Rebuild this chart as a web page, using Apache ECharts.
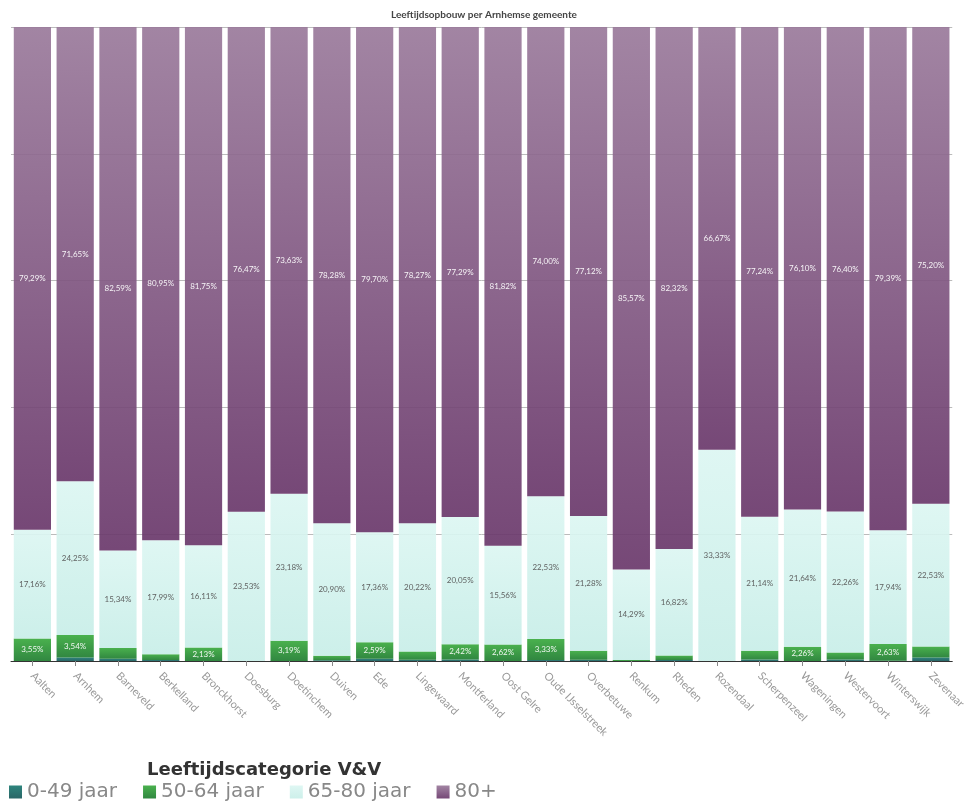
<!DOCTYPE html>
<html>
<head>
<meta charset="utf-8">
<script src="https://cdn.jsdelivr.net/npm/echarts@6/dist/echarts.min.js"></script>
<style>
  html, body { margin: 0; padding: 0; background: #fff; }
  #main { width: 968px; height: 802px; }
</style>
</head>
<body>
<div id="main"></div>
<script>
const gemeenten = ['Aalten', 'Arnhem', 'Barneveld', 'Berkelland', 'Bronckhorst', 'Doesburg', 'Doetinchem', 'Duiven', 'Ede', 'Lingewaard', 'Montferland', 'Oost Gelre', 'Oude IJsselstreek', 'Overbetuwe', 'Renkum', 'Rheden', 'Rozendaal', 'Scherpenzeel', 'Wageningen', 'Westervoort', 'Winterswijk', 'Zevenaar'];

// percentages per leeftijdscategorie
const jaar0_49  = [0.00, 0.56, 0.37, 0.16, 0.00, 0.00, 0.00, 0.12, 0.35, 0.21, 0.24, 0.00, 0.14, 0.20, 0.00, 0.16, 0.00, 0.22, 0.00, 0.24, 0.04, 0.57];
const jaar50_64 = [3.55, 3.54, 1.70, 0.90, 2.13, 0.00, 3.19, 0.70, 2.59, 1.30, 2.42, 2.62, 3.33, 1.40, 0.14, 0.70, 0.00, 1.40, 2.26, 1.10, 2.63, 1.70];
const jaar65_80 = [17.16, 24.25, 15.34, 17.99, 16.11, 23.53, 23.18, 20.90, 17.36, 20.22, 20.05, 15.56, 22.53, 21.28, 14.29, 16.82, 33.33, 21.14, 21.64, 22.26, 17.94, 22.53];
const jaar80    = [79.29, 71.65, 82.59, 80.95, 81.75, 76.47, 73.63, 78.28, 79.70, 78.27, 77.29, 81.82, 74.00, 77.12, 85.57, 82.32, 66.67, 77.24, 76.10, 76.40, 79.39, 75.20];

const chart = echarts.init(document.getElementById('main'));

function grad(top, bottom) {
  return new echarts.graphic.LinearGradient(0, 0, 0, 1, [
    { offset: 0, color: top },
    { offset: 1, color: bottom }
  ]);
}

function pct(p) {
  return p.value.toFixed(2).replace('.', ',') + '%';
}

function serie(name, data, color, labelColor, minShow) {
  return {
    name: name,
    type: 'bar',
    stack: 'totaal',
    data: data,
    barCategoryGap: '13%',
    itemStyle: { color: color, opacity: 0.92 },
    label: {
      show: true,
      position: 'inside',
      fontSize: 8,
      color: labelColor,
      fontFamily: 'Lato',
      formatter: function (p) {
        return p.value >= minShow ? pct(p) : '';
      }
    },
    emphasis: { disabled: true }
  };
}

const series = [
  serie('0-49 jaar', jaar0_49, grad('#1c7a72', '#17595a'), '#fff', 100),
  serie('50-64 jaar', jaar50_64, grad('#3aaa3e', '#1f7d30'), '#fff', 2),
  serie('65-80 jaar', jaar65_80, grad('#dcf6f2', '#c8eee8'), '#555', 2),
  serie('80+', jaar80, grad('#9a7a9b', '#6a386b'), '#fff', 2)
];

const option = {
  backgroundColor: '#fff',
  color: ['#17706b', '#2e9a35', '#c9f1ea', '#7d4f7d'],
  title: [
    {
      text: 'Leeftijdsopbouw per Arnhemse gemeente',
      left: 'center',
      top: 5,
      textStyle: { fontSize: 10, fontWeight: 'bold', color: '#444', fontFamily: 'Lato' }
    },
    {
      text: 'Leeftijdscategorie V&V',
      left: 142,
      top: 756,
      textStyle: { fontSize: 18, fontWeight: 'bold', color: '#333', fontFamily: 'DejaVu Sans' }
    }
  ],
  legend: {
    left: 4,
    top: 777,
    itemWidth: 13,
    itemHeight: 13,
    itemGap: 26,
    icon: 'rect',
    textStyle: { fontSize: 20, color: '#888', fontFamily: 'DejaVu Sans' },
    data: ['0-49 jaar', '50-64 jaar', '65-80 jaar', '80+']
  },
  grid: { left: 11, right: 3, top: 27, bottom: 141 },
  xAxis: {
    type: 'category',
    data: gemeenten,
    axisLine: { lineStyle: { color: '#333' } },
    axisTick: { show: true, alignWithLabel: true, lineStyle: { color: '#888' } },
    axisLabel: {
      rotate: -45,
      interval: 0,
      fontSize: 11,
      color: '#999',
      fontFamily: 'Lato',
      margin: 13
    }
  },
  yAxis: {
    type: 'value',
    min: 0,
    max: 100,
    interval: 20,
    axisLabel: { show: false },
    axisLine: { show: false },
    axisTick: { show: false },
    splitLine: { show: true, lineStyle: { color: '#bbb', width: 1 } }
  },
  series: series
};

chart.setOption(option);
</script>
</body>
</html>
